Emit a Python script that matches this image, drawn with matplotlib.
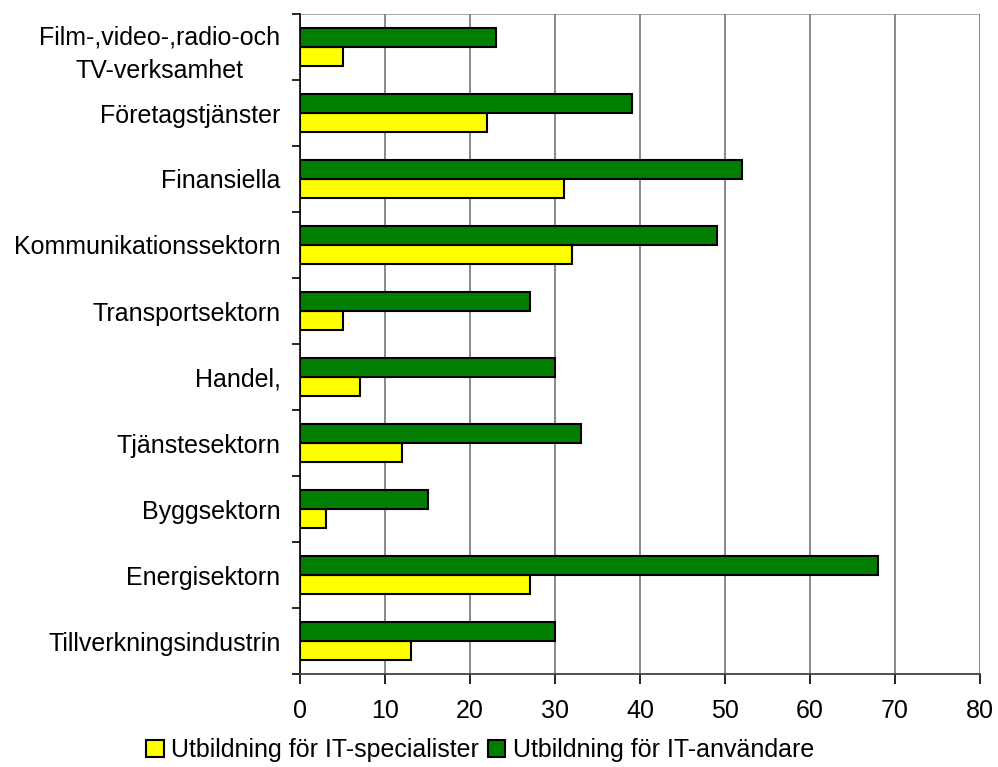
import numpy as np
import matplotlib.pyplot as plt
from matplotlib.patches import Patch

plt.rcParams['font.family'] = ['Liberation Sans', 'DejaVu Sans']

# sectors, listed bottom to top as they appear on the y axis
sectors = ['Tillverkningsindustrin', 'Energisektorn', 'Byggsektorn',
           'Tjänstesektorn', 'Handel,', 'Transportsektorn',
           'Kommunikationssektorn', 'Finansiella', 'Företagstjänster',
           'Film-,video-,radio-och\nTV-verksamhet']
specialister = [13, 27, 3, 12, 7, 5, 32, 31, 22, 5]
anvandare = [30, 68, 15, 33, 30, 27, 49, 52, 39, 23]

label_spec = 'Utbildning för IT-specialister'
label_anv = 'Utbildning för IT-användare'

fs = 18

fig = plt.figure(figsize=(9.98, 7.67), dpi=100)
ax = fig.add_axes([300 / 998, 1 - 674 / 767, 680 / 998, 660 / 767])

y = np.arange(len(sectors))
h = 0.29
ax.barh(y - h / 2, specialister, height=h, color='#ffff00',
        edgecolor='black', linewidth=1.5, zorder=3)
ax.barh(y + h / 2, anvandare, height=h, color='#007f00',
        edgecolor='black', linewidth=1.5, zorder=3)

ax.set_xlim(0, 80)
ax.set_ylim(-0.5, len(sectors) - 0.5)
ax.set_xticks(range(0, 81, 10))
ax.xaxis.grid(True, color='#808080', linewidth=1.3, zorder=0)

# category labels sit between boundary ticks
ax.set_yticks(np.arange(-0.5, len(sectors), 1.0))
ax.set_yticklabels([])
ax.set_yticks(y, minor=True)
labels = ax.set_yticklabels(sectors, minor=True, fontsize=fs)
for t in labels:
    t.set_multialignment('center')
    t.set_linespacing(1.5)
ax.tick_params(axis='y', which='minor', length=0, pad=14)
ax.tick_params(axis='y', which='major', length=6, width=1.2, direction='out')
ax.tick_params(axis='x', length=7, width=1.2, direction='out', labelsize=fs, pad=11)

for s in ['top', 'right']:
    ax.spines[s].set_visible(False)
ax.spines['left'].set_linewidth(1.2)
ax.spines['bottom'].set_color('#404040')
ax.spines['bottom'].set_linewidth(1.3)
ax.axhline(len(sectors) - 0.5, color='#a0a0a0', linewidth=1.3, zorder=1)

handles = [Patch(facecolor='#ffff00', edgecolor='black', linewidth=1.5),
           Patch(facecolor='#007f00', edgecolor='black', linewidth=1.5)]
fig.legend(handles, [label_spec, label_anv], loc='center',
           bbox_to_anchor=(480 / 998, 1 - 750 / 767), ncol=2, frameon=False,
           fontsize=fs, handlelength=0.7, handleheight=0.7,
           handletextpad=0.3, columnspacing=0.35, borderpad=0)

fig.savefig('out.png', dpi=100)
